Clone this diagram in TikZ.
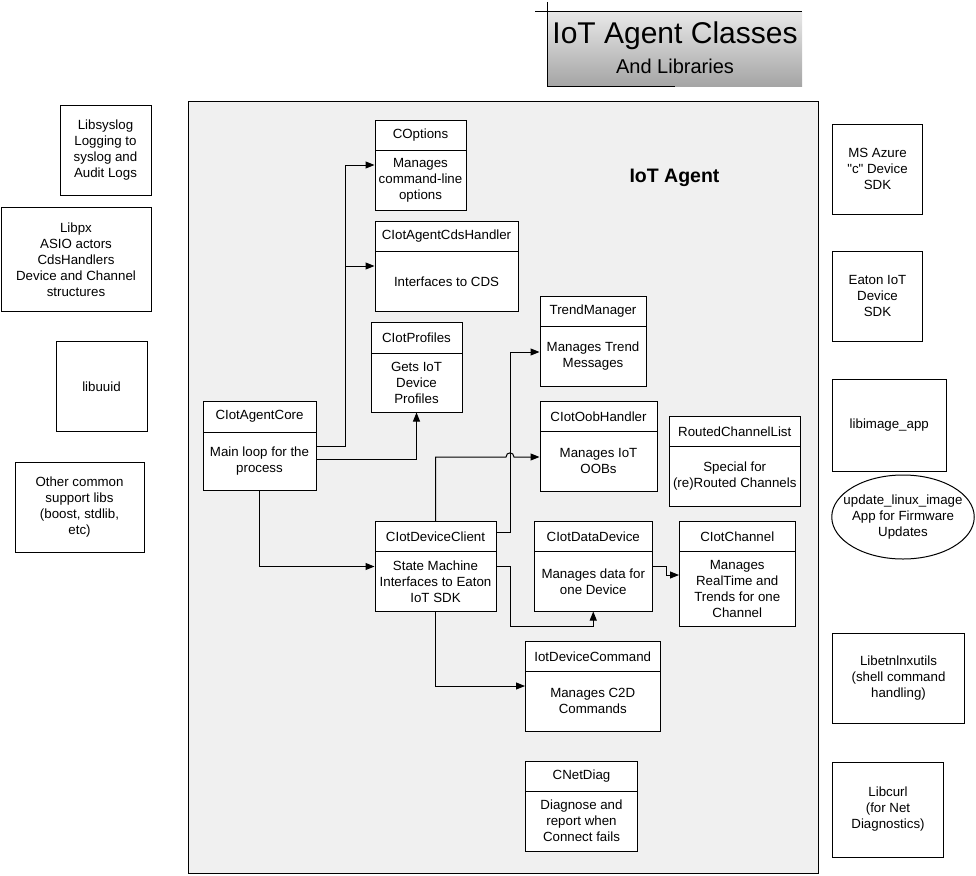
\documentclass[tikz,border=0pt]{standalone}
\usepackage{fontspec}
\setmainfont{Liberation Sans}
\newfontfamily\rawfont{Liberation Sans}[Ligatures=TeXOff]
\usetikzlibrary{arrows.meta,shapes.geometric}
\definecolor{agentbg}{RGB}{240,240,240}
\definecolor{titletop}{RGB}{232,232,232}
\definecolor{titlebot}{RGB}{165,165,165}
\newcommand\mybox[6]{%
  \node[libbox, minimum width={(#4)-(#2)}, minimum height={(#5)-(#3)}] (#1)
    at ({((#2)+(#4))/2},{((#3)+(#5))/2}) {#6};}
\newcommand\clsbox[8]{%
  \node[clsframe, minimum width={(#4)-(#2)}, minimum height={(#6)-(#3)}] (#1)
    at ({((#2)+(#4))/2},{((#3)+(#6))/2}) {};
  \draw[boxline] (#2,#5) -- (#4,#5);
  \node[txt] (#1-h) at ({((#2)+(#4))/2},{((#3)+(#5))/2}) {#7};
  \node[txt] (#1-b) at ({((#2)+(#4))/2},{((#5)+(#6))/2}) {#8};}
\begin{document}
\begin{tikzpicture}[x=1pt,y=-1pt,
  txt/.style={font=\fontsize{13.3}{16}\selectfont, inner sep=0pt, align=center},
  boxline/.style={draw=black, line width=1pt},
  libbox/.style={txt, boxline, fill=white},
  clsframe/.style={boxline, fill=white, inner sep=0pt},
  conn/.style={line width=1pt, -{Triangle[length=9pt,width=7pt]}},
  plainline/.style={line width=1pt}]
\useasboundingbox (0,0) rectangle (976,875);

% title
\shade[top color=titletop, bottom color=titlebot] (547,12) rectangle (802,86);
\draw[plainline] (535,12) -- (802,12);
\draw[plainline] (547,2) -- (547,86) -- (675,86);
\node[inner sep=0pt, font=\fontsize{30}{34}\selectfont] (title1) at (675,36) {IoT Agent Classes};
\node[inner sep=0pt, font=\fontsize{20}{24}\selectfont] (title2) at (675,66) {And Libraries};

% main agent area
\node[boxline, fill=agentbg, minimum width=630, minimum height=771.5, inner sep=0pt] (agent) at (503,487.5) {};
\node[inner sep=0pt, font=\fontsize{19.5}{23}\selectfont\bfseries] (agentlbl) at (674.5,178) {IoT Agent};

% class boxes
\clsbox{copt}{375}{120}{466}{150.5}{210}{COptions}{Manages\\command-line\\options}
\clsbox{cds}{375}{221}{518}{251.5}{311}{CIotAgentCdsHandler}{Interfaces to CDS}
\clsbox{prof}{371}{322}{462}{353}{412}{CIotProfiles}{Gets IoT\\Device\\Profiles}
\clsbox{core}{203}{401}{316}{432}{490}{CIotAgentCore}{Main loop for the\\process}
\clsbox{tm}{540}{296}{646}{326}{386}{TrendManager}{Manages Trend\\Messages}
\clsbox{oob}{540}{401}{657}{431.5}{491}{CIotOobHandler}{Manages IoT\\OOBs}
\clsbox{rcl}{669.5}{416.5}{800}{446}{506}{RoutedChannelList}{Special for\\(re)Routed Channels}
\clsbox{dc}{375}{521.5}{496}{551.5}{611}{CIotDeviceClient}{State Machine\\Interfaces to Eaton\\IoT SDK}
\clsbox{dd}{534.5}{521.5}{652}{551.5}{611}{CIotDataDevice}{Manages data for\\one Device}
\clsbox{ch}{679.5}{521.5}{795}{551.5}{626}{CIotChannel}{Manages\\RealTime and\\Trends for one\\Channel}
\clsbox{cmd}{525.5}{641}{660}{671.5}{731}{IotDeviceCommand}{Manages C2D\\Commands}
\clsbox{net}{525.5}{761}{637.5}{791}{851}{CNetDiag}{Diagnose and\\report when\\Connect fails}

% left libraries
\mybox{syslog}{60}{105}{151}{195}{Libsyslog\\Logging to\\syslog and\\Audit Logs}
\mybox{libpx}{1}{207.5}{151}{311.5}{Libpx\\ASIO actors\\CdsHandlers\\Device and Channel\\structures}
\mybox{uuid}{56}{341.5}{147}{431}{libuuid}
\mybox{other}{15}{462.5}{144}{552.5}{Other common\\support libs\\(boost, stdlib,\\etc)}

% right libraries
\mybox{azure}{832.5}{124}{922.5}{214.5}{MS Azure\\{\rawfont"c"} Device\\SDK}
\mybox{eaton}{832.5}{251}{922.5}{341}{Eaton IoT\\Device\\SDK}
\mybox{image}{832.5}{379.5}{946}{471}{libimage\_app}
\node[boxline, fill=white, ellipse, inner sep=0pt, minimum width=142.5, minimum height=84] (upd) at (903,517) {};
\node[txt] (upd-t) at (upd.center) {update\_linux\_image\\App for Firmware\\Updates};
\mybox{etn}{832.5}{633.5}{964.5}{723.5}{Libetnlnxutils\\(shell command\\handling)}
\mybox{curl}{832.5}{762}{943.5}{857}{Libcurl\\(for Net\\Diagnostics)}

% connectors
\draw[conn] (core.east |- 0,446) -- (345,446) |- (copt.west |- 0,165);
\draw[conn] (345,266) -- (cds.west |- 0,266);
\draw[conn] (core.east |- 0,459) -| (prof.south);
\draw[conn] (core.south) |- (dc.west |- 0,566.5);
\draw[conn] (dc.north) |- (506,457) .. controls (506,451.5) and (514,451.5) .. (514,457) -- (oob.west |- 0,457);
\draw[conn] (dc.east |- 0,532) -| (510,352) -- (tm.west |- 0,352);
\draw[conn] (dc.east |- 0,566.5) -| (510.5,626) -| (dd.south);
\draw[conn] (dd.east |- 0,566.5) -| (666,575) -- (ch.west |- 0,575);
\draw[conn] (dc.south) |- (cmd.west |- 0,686);
\end{tikzpicture}
\end{document}
